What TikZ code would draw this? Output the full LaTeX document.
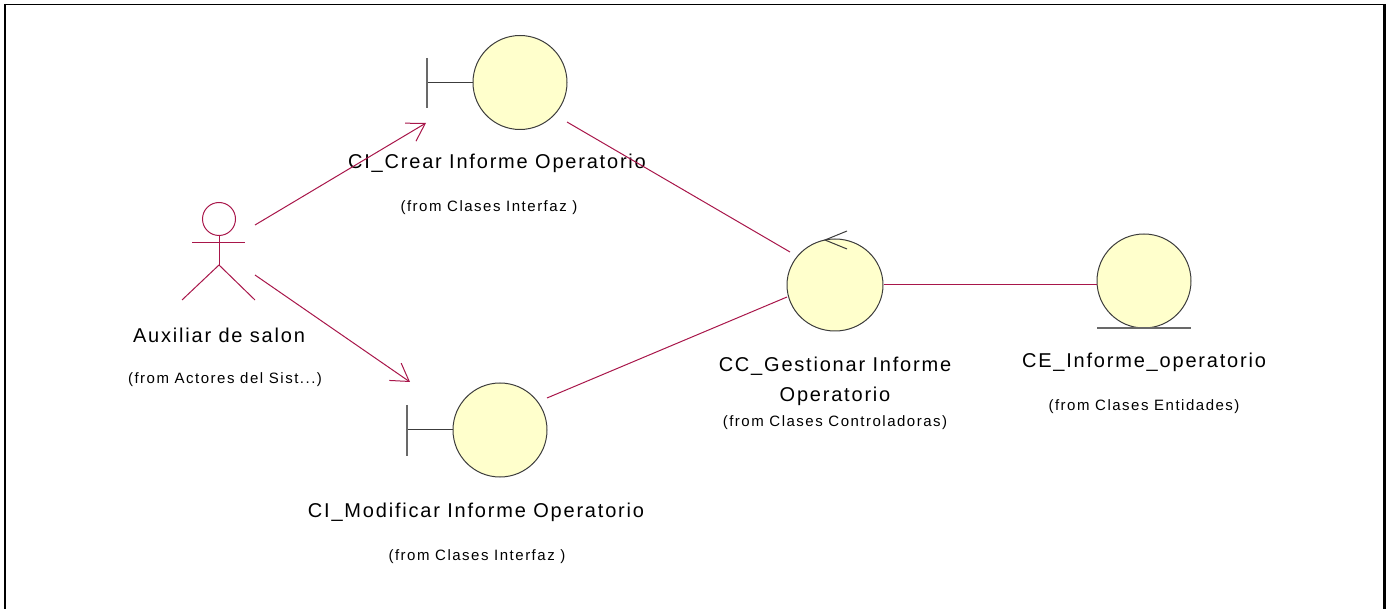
\documentclass[tikz,border=0pt]{standalone}
\usepackage{fontspec}
\setmainfont{Liberation Sans}
\newfontfamily\namefont[LetterSpace=9]{Liberation Sans}
\newfontfamily\fromfont[LetterSpace=10]{Liberation Sans}
\usetikzlibrary{arrows.meta,shapes.geometric}
\definecolor{link}{RGB}{168,22,74}
\definecolor{bodyfill}{RGB}{255,255,204}
\definecolor{rim}{RGB}{60,60,60}
\definecolor{barcol}{RGB}{105,105,105}
\tikzset{
  classbody/.style={circle, draw=rim, fill=bodyfill, line width=1pt, inner sep=0pt, minimum size=94pt},
  conn/.style={draw=link, line width=1pt},
  msg/.style={conn, -{Straight Barb[length=17pt, width=21pt, line width=1pt]}},
  elemname/.style={font=\namefont\fontsize{20}{24}\selectfont, inner sep=0pt, align=center},
  origin/.style={font=\fromfont\fontsize{15}{18}\selectfont, inner sep=0pt},
}
\begin{document}
\begin{tikzpicture}[x=1pt, y=-1pt]
\useasboundingbox (0,0) rectangle (1393,609);
% frame
\draw[line width=1.5pt] (5,620) -- (5,4.7) -- (1384.5,4.7) -- (1384.5,620);
\draw[line width=2.5pt] (5.2,4) -- (5.2,620);
\draw[line width=2.5pt] (1384.6,4) -- (1384.6,620);

% actor
\begin{scope}[draw=link, line width=1pt]
  \node[circle, draw=link, line width=1pt, minimum size=33pt, inner sep=0pt] (head) at (219,219) {};
  \draw (head.south) -- (219,265);
  \draw (192,243) -- (245,243);
  \draw (182,300) -- (219,265) -- (255,300);
\end{scope}
\node[elemname] (actorname) at (219,335) {Auxiliar de salon};
\node[origin] (actorfrom) at (225,380) {(from Actores del Sist...)};

% boundary: crear
\node[classbody] (crear) at (520,82.5) {};
\draw[rim, line width=1pt] (427,82.5) -- (crear.west);
\draw[barcol, line width=1.5pt] (427,58) -- (427,108);
\node[elemname] (crearname) at (497,163) {CI\_Crear Informe Operatorio};
\node[origin] (crearfrom) at (489,208) {(from Clases Interfaz )};

% boundary: modificar
\node[classbody] (modif) at (500,430) {};
\draw[rim, line width=1pt] (407,430) -- (modif.west);
\draw[barcol, line width=1.5pt] (407,405) -- (407,456);
\node[elemname] (modifname) at (476,512) {CI\_Modificar Informe Operatorio};
\node[origin] (modiffrom) at (477,557) {(from Clases Interfaz )};

% control
\node[ellipse, draw=rim, fill=bodyfill, line width=1pt, inner sep=0pt, minimum width=96pt, minimum height=92pt] (ctrl) at (835,285) {};
\draw[rim, line width=1pt] (847,231) -- (825,240) -- (847,249);
\node[elemname] (ctrlname) at (835,366) {CC\_Gestionar Informe};
\node[elemname] (ctrlname2) at (835,396) {Operatorio};
\node[origin] (ctrlfrom) at (835,423) {(from Clases Controladoras)};

% entity
\node[classbody] (ent) at (1144,281) {};
\draw[barcol, line width=1.2pt] (1097,328) -- (1191,328);
\node[elemname] (entname) at (1144,362) {CE\_Informe\_operatorio};
\node[origin] (entfrom) at (1144,407) {(from Clases Entidades)};

% connector end points
\coordinate (a1s) at (255,225);
\coordinate (a1e) at (426,123);
\coordinate (a2s) at (255,275);
\coordinate (a2e) at (410,382);
\coordinate (c1s) at (567,122);
\coordinate (c1e) at (790,252);
\coordinate (c2s) at (547,398);
\coordinate (c2e) at (787,297);

\draw[msg] (a1s) -- (a1e);
\draw[msg] (a2s) -- (a2e);
\draw[conn] (c1s) -- (c1e);
\draw[conn] (c2s) -- (c2e);
\draw[conn] (ctrl.east) -- (ctrl.east -| ent.west);
\end{tikzpicture}
\end{document}
